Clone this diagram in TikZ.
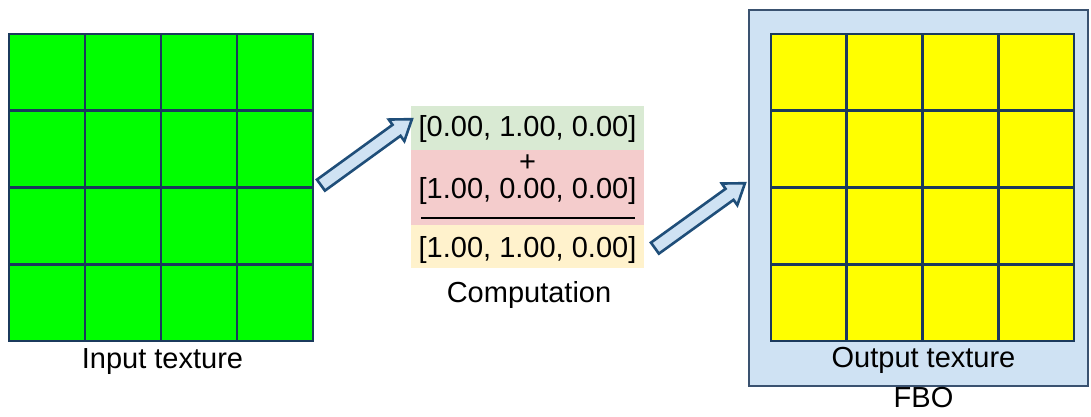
\documentclass[tikz,border=0pt]{standalone}
\usepackage{fontspec}
\setmainfont{Liberation Sans}
\usetikzlibrary{calc,shapes.arrows}
\definecolor{gridblue}{HTML}{1B3A5C}
\definecolor{arrowfill}{HTML}{CFE2F3}
\definecolor{arrowline}{HTML}{1F4E79}
\definecolor{fbofill}{HTML}{CFE2F3}
\definecolor{fboline}{HTML}{3A5270}
\definecolor{bandgreen}{HTML}{D9EAD3}
\definecolor{bandred}{HTML}{F4CCCC}
\definecolor{bandyellow}{HTML}{FFF2CC}
\definecolor{texgreen}{HTML}{00FF00}
\definecolor{texyellow}{HTML}{FFFF00}
\tikzset{
  texbox/.style={draw=gridblue, line width=2.8pt, inner sep=0pt, outer sep=0pt},
  gridline/.style={draw=gridblue, line width=2.8pt},
  label/.style={anchor=base, inner sep=0pt, font=\fontsize{29}{34}\selectfont},
  band/.style={inner sep=0pt, outer sep=0pt, draw=none},
  blockarrow/.style={single arrow, draw=arrowline, fill=arrowfill, line width=2.6pt,
    inner xsep=0pt, inner ysep=5.5pt, outer sep=0pt, minimum width=0pt,
    single arrow head extend=6.5pt, single arrow tip angle=70},
}
\begin{document}
\begin{tikzpicture}[x=1pt,y=-1pt]
\useasboundingbox (0,0) rectangle (1091,416);
% FBO box
\node[draw=fboline, fill=fbofill, line width=2.2pt, inner sep=0pt, minimum width=339pt, minimum height=376pt] (fbo) at (918.5,198) {};
% Input texture
\node[texbox, fill=texgreen, minimum width=304pt, minimum height=307pt] (in) at (161,187.5) {};
\foreach \i in {1,2,3}{
  \draw[gridline] ($(in.north west)!\i/4!(in.north east)$) -- ($(in.south west)!\i/4!(in.south east)$);
  \draw[gridline] ($(in.north west)!\i/4!(in.south west)$) -- ($(in.north east)!\i/4!(in.south east)$);
}
\node[texbox, fill=none, minimum width=304pt, minimum height=307pt] at (in.center) {};
% Output texture
\node[texbox, fill=texyellow, minimum width=303pt, minimum height=307pt] (out) at (922.5,187.5) {};
\foreach \i in {1,2,3}{
  \draw[gridline] ($(out.north west)!\i/4!(out.north east)$) -- ($(out.south west)!\i/4!(out.south east)$);
  \draw[gridline] ($(out.north west)!\i/4!(out.south west)$) -- ($(out.north east)!\i/4!(out.south east)$);
}
\node[texbox, fill=none, minimum width=303pt, minimum height=307pt] at (out.center) {};
% Computation bands
\node[band, fill=bandgreen, minimum width=233pt, minimum height=44pt] (b1) at (527.5,128) {};
\node[band, fill=bandred, minimum width=233pt, minimum height=75pt] (b2) at (527.5,187.5) {};
\node[band, fill=bandyellow, minimum width=233pt, minimum height=43pt] (b3) at (527.5,246.5) {};
\node[label] (t1) at (527.5,136) {[0.00, 1.00, 0.00]};
\node[label] (plus) at (527.5,171) {+};
\node[label] (t2) at (527.5,198) {[1.00, 0.00, 0.00]};
\draw[line width=2.2pt] (421,218) coordinate (hl) -- (635,218) coordinate (hr);
\node[label] (t3) at (527.5,257) {[1.00, 1.00, 0.00]};
% Labels
\node[label] (lin) at (162.5,368) {Input texture};
\node[label] (lcomp) at (529,302) {Computation};
\node[label] (lout) at (923.5,367) {Output texture};
\node[label] (lfbo) at (923.5,407) {FBO};
% Block arrows
\coordinate (a1s) at (317,188);
\coordinate (a1e) at (408,122);
\coordinate (a2s) at (651,251);
\coordinate (a2e) at (741,186);
\node[blockarrow, rotate=35.95, minimum height=112.4pt] (arr1) at ($(a1s)!0.5!(a1e)$) {};
\node[blockarrow, rotate=35.8, minimum height=111pt] (arr2) at ($(a2s)!0.5!(a2e)$) {};
\end{tikzpicture}
\end{document}
